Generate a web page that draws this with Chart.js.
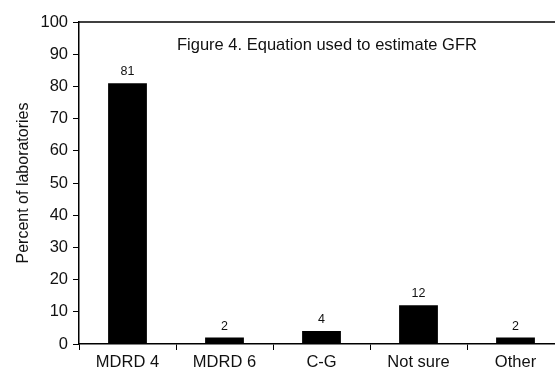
<!DOCTYPE html>
<html>
<head>
<meta charset="utf-8">
<script src="https://cdn.jsdelivr.net/npm/chart.js@4"></script>
<style>
  body { margin: 0; overflow: hidden; background: #fff; }
  #wrap { width: 600px; height: 375px; }
</style>
</head>
<body>
<div id="wrap"><canvas id="chart"></canvas></div>
<script>
// Chart values
const categories = ['MDRD 4', 'MDRD 6', 'C-G', 'Not sure', 'Other'];
const percents = [81, 2, 4, 12, 2];
const yTicks = [0, 10, 20, 30, 40, 50, 60, 70, 80, 90, 100];
const chartTitle = 'Figure 4. Equation used to estimate GFR';
const yTitle = 'Percent of laboratories';

const FONT = 'Arial, "Liberation Sans", sans-serif';

// Draws the value above each bar, the title inside the plot and the frame top line
const extras = {
    id: 'extras',
    afterDatasetsDraw(chart) {
        const ctx = chart.ctx;
        const area = chart.chartArea;
        ctx.save();
        ctx.fillStyle = '#111';
        ctx.font = '12.5px ' + FONT;
        ctx.textAlign = 'center';
        ctx.textBaseline = 'alphabetic';
        chart.getDatasetMeta(0).data.forEach((bar, i) => {
            ctx.fillText(String(percents[i]), bar.x, bar.y - 8);
        });
        ctx.font = '16.5px ' + FONT;
        ctx.textAlign = 'left';
        ctx.fillText(chartTitle, area.left + 98, area.top + 28);
        // top border of the frame
        ctx.strokeStyle = '#000';
        ctx.lineWidth = 1.5;
        ctx.beginPath();
        ctx.moveTo(area.left, area.top);
        ctx.lineTo(area.right, area.top);
        ctx.stroke();
        ctx.restore();
    }
};

new Chart(document.getElementById('chart').getContext('2d'), {
    type: 'bar',
    data: {
        labels: categories,
        datasets: [{
            data: percents,
            backgroundColor: '#000',
            borderWidth: 0,
            barPercentage: 0.4,
            categoryPercentage: 1.0
        }]
    },
    options: {
        responsive: true,
        maintainAspectRatio: false,
        animation: false,
        layout: { padding: { top: 22, right: 36, left: 0, bottom: 0 } },
        plugins: {
            legend: { display: false },
            tooltip: { enabled: false }
        },
        scales: {
            x: {
                offset: true,
                grid: { offset: true, drawOnChartArea: false, drawTicks: true, tickLength: 6, color: '#000', lineWidth: 1 },
                border: { color: '#000', width: 1.5 },
                ticks: {
                    color: '#111',
                    font: { size: 16.5, family: FONT },
                    padding: 3,
                    maxRotation: 0
                },
                afterFit(scale) { scale.height = 31; }
            },
            y: {
                min: 0,
                max: 100,
                afterBuildTicks(scale) { scale.ticks = yTicks.map(v => ({ value: v })); },
                grid: { drawOnChartArea: false, drawTicks: true, tickLength: 6, color: '#000', lineWidth: 1 },
                border: { color: '#000', width: 1.5 },
                ticks: {
                    color: '#111',
                    font: { size: 16.5, family: FONT },
                    padding: 5
                },
                title: {
                    display: true,
                    text: yTitle,
                    color: '#111',
                    font: { size: 16, family: FONT },
                    padding: { top: 14, bottom: 6 }
                },
                afterFit(scale) { scale.width = 79; }
            }
        }
    },
    plugins: [extras]
});
</script>
</body>
</html>
